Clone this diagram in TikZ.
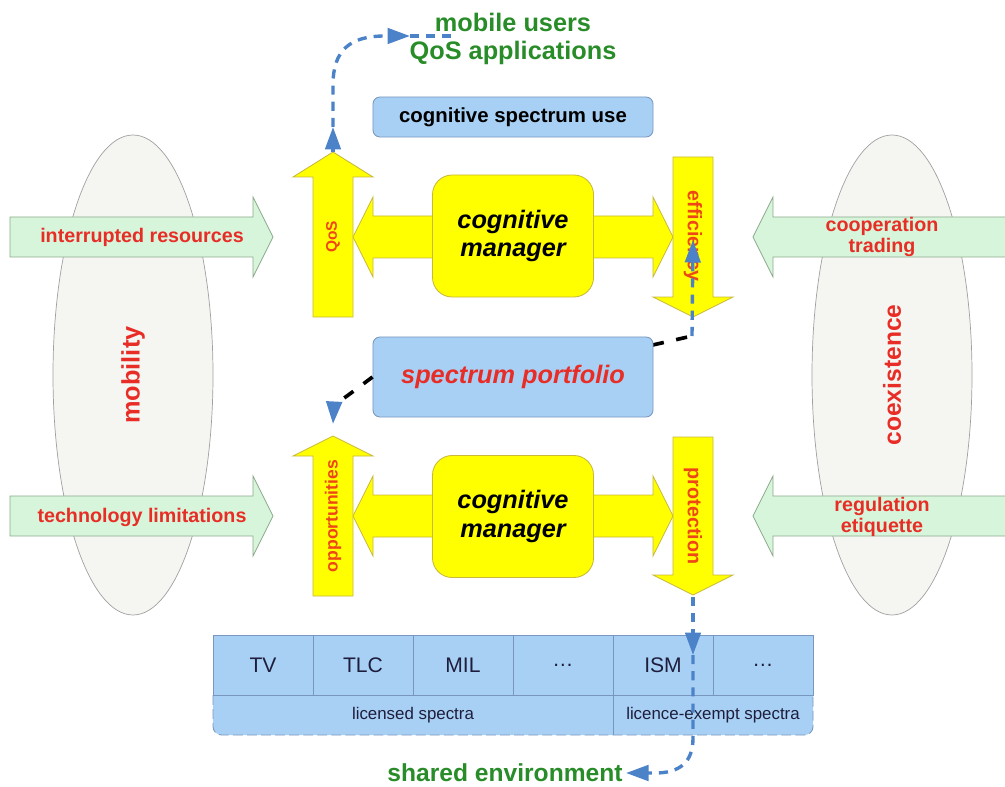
\documentclass[tikz,border=0pt]{standalone}
\usepackage{fontspec}
\setmainfont{Liberation Sans}
\usetikzlibrary{arrows.meta}

\definecolor{armyellow}{RGB}{255,255,0}
\definecolor{yelline}{RGB}{200,184,60}
\definecolor{boxblue}{RGB}{168,208,245}
\definecolor{boxline}{RGB}{120,150,190}
\definecolor{tabletext}{RGB}{30,30,60}
\definecolor{greenfill}{RGB}{214,245,218}
\definecolor{greenline}{RGB}{140,170,140}
\definecolor{ovalfill}{RGB}{245,245,242}
\definecolor{ovalline}{RGB}{160,160,160}
\definecolor{flowblue}{RGB}{75,130,200}
\definecolor{lblred}{RGB}{232,45,38}
\definecolor{lblorange}{RGB}{238,70,20}
\definecolor{outgreen}{RGB}{40,140,40}

\tikzset{
  yarrow/.style={fill=armyellow, draw=yelline, line width=0.6pt},
  garrow/.style={fill=greenfill, draw=greenline, line width=0.5pt},
  oval/.style={fill=ovalfill, draw=ovalline, line width=0.5pt},
  bluebox/.style={fill=boxblue, draw=boxline, rounded corners=5pt, line width=0.6pt,
    minimum width=7cm, inner sep=0pt, font=\bfseries},
  cmbox/.style={fill=armyellow, draw=yelline, rounded corners=14pt, line width=0.6pt,
    minimum width=4.025cm, minimum height=3.05cm, align=center,
    font=\fontsize{18}{20.5}\selectfont\bfseries\itshape},
  sidelbl/.style={text=lblred, font=\fontsize{18}{20}\selectfont\bfseries, rotate=90},
  arrlbl/.style={text=lblred, font=\fontsize{14}{15}\selectfont\bfseries, align=center},
  ylbl/.style={text=lblorange, font=\fontsize{14}{15}\selectfont\bfseries},
  outlbl/.style={text=outgreen, font=\fontsize{18}{20}\selectfont\bfseries, align=center},
  cell/.style={fill=boxblue, draw=boxline, line width=0.5pt, minimum width=2.5cm,
    minimum height=1.5cm, inner sep=0pt, text=tabletext, font=\fontsize{15}{17}\selectfont},
  rowlbl/.style={text=tabletext, font=\fontsize{12}{14}\selectfont},
  flow/.style={draw=flowblue, line width=2.4pt, dash pattern=on 6.5pt off 5pt,
    -{Triangle[length=16pt,width=11pt,color=flowblue]}},
  blackdash/.style={draw=black, line width=2.6pt, dash pattern=on 8pt off 9pt}
}

\newcommand{\greenright}[1]{%
  \draw[garrow] (10,#1-20) -- (253,#1-20) -- (253,#1-40) -- (273,#1)
    -- (253,#1+40) -- (253,#1+20) -- (10,#1+20) -- cycle;}
\newcommand{\greenleft}[1]{%
  \draw[garrow] (1010,#1-20) -- (773,#1-20) -- (773,#1-40) -- (753,#1)
    -- (773,#1+40) -- (773,#1+20) -- (1010,#1+20) -- cycle;}
\newcommand{\ydouble}[1]{%
  \draw[yarrow] (353,#1) -- (373,#1-40) -- (373,#1-21) -- (653,#1-21) -- (653,#1-40)
    -- (673,#1) -- (653,#1+40) -- (653,#1+21) -- (373,#1+21) -- (373,#1+40) -- cycle;}

\begin{document}
\begin{tikzpicture}[x=0.025cm, y=-0.025cm]
\useasboundingbox (0,0) rectangle (1005,787);

% side ovals
\draw[oval] (133,375) ellipse (80 and 240);
\draw[oval] (892,375) ellipse (80 and 240);
\node[sidelbl] (mob) at (133,375) {mobility};
\node[sidelbl, font=\fontsize{17.5}{20}\selectfont\bfseries] (coex) at (892,375) {coexistence};

% green inputs
\greenright{237}
\greenright{516}
\greenleft{237}
\greenleft{516}
\node[arrlbl] (intr) at (142,237) {interrupted resources};
\node[arrlbl] (tech) at (142,517) {technology limitations};
\node[arrlbl] (coop) at (882,237) {cooperation\\trading};
\node[arrlbl] (regu) at (882,517) {regulation\\etiquette};

% cognitive managers
\ydouble{237}
\ydouble{516}
\node[cmbox] (cm1) at (513,236) {cognitive\\manager};
\node[cmbox] (cm2) at (513,516.5) {cognitive\\manager};

% vertical arrows
\draw[yarrow] (313,317) -- (313,177) -- (293,177) -- (333,152) -- (373,177) -- (353,177) -- (353,317) -- cycle;
\draw[yarrow] (313,596) -- (313,456) -- (293,456) -- (333,436) -- (373,456) -- (353,456) -- (353,596) -- cycle;
\draw[yarrow] (673,157) -- (673,297) -- (653,297) -- (693,317) -- (733,297) -- (713,297) -- (713,157) -- cycle;
\draw[yarrow] (673,437) -- (673,575) -- (653,575) -- (693,595) -- (733,575) -- (713,575) -- (713,437) -- cycle;
\node[ylbl, rotate=90, font=\fontsize{11}{13}\selectfont\bfseries] (qos) at (333,237) {QoS};
\node[ylbl, rotate=90, font=\fontsize{12.5}{14}\selectfont\bfseries] (opp) at (333,516) {opportunities};
\node[ylbl, rotate=-90] (eff) at (693,236) {efficiency};
\node[ylbl, rotate=-90] (prot) at (693,516) {protection};

% boxes
\coordinate (effin) at (692,336);
\coordinate (effup) at (693,240);
\coordinate (opptip) at (333,424);
\draw[blackdash] (513,377) -- (effin);
\node[bluebox, minimum height=2cm, text=lblred, font=\fontsize{18}{20}\selectfont\bfseries\itshape]
  (pf) at (513,377) {spectrum portfolio};
\node[bluebox, minimum height=1cm, font=\fontsize{14.5}{16}\selectfont\bfseries] (csu) at (513,117) {cognitive spectrum use};
\draw[blackdash, -{Triangle[length=16pt,width=11pt,color=flowblue]}]
  (pf.west) -- (347,396) .. controls (334,405) .. (opptip);
\draw[flow] (effin) -- (effup);

% spectrum table
\fill[boxblue, rounded corners=6pt] (213,688) rectangle (813,735);
\foreach \lab [count=\i] in {TV,TLC,MIL,{\ldots},ISM,{\ldots}}
  \node[cell] (c\i) at (163+100*\i,665) {\lab};
\draw[boxline, line width=0.6pt, dash pattern=on 7pt off 3pt, rounded corners=6pt]
  (213,695) -- (213,735) -- (813,735) -- (813,695);
\draw[boxline, line width=0.5pt] (613,695) -- (613,735);
\node[rowlbl] (lic) at (413,715) {licensed spectra};
\node[rowlbl] (lex) at (713,715) {licence-exempt spectra};

% outputs
\node[outlbl] (users) at (513,39) {mobile users\\QoS applications};
\node[outlbl, font=\fontsize{17.5}{20}\selectfont\bfseries] (shared) at (505,773) {shared environment};

\coordinate (qostip) at (333,152);
\coordinate (upA) at (333,127);
\coordinate (upB) at (410,36);
\coordinate (upC) at (455,36);
\draw[flow] (qostip) -- (upA);
\draw[flow] (upA) -- (333,85) .. controls (333,50) and (350,36) .. (385,36) -- (upB);
\draw[flow, -] (upB) -- (upC);

\coordinate (protip) at (693,597);
\coordinate (dnA) at (693,655);
\coordinate (dnB) at (626,773);
\draw[flow] (protip) -- (dnA);
\draw[flow] (dnA) -- (693,738) .. controls (693,762) and (680,773) .. (655,773) -- (dnB);
\end{tikzpicture}
\end{document}
